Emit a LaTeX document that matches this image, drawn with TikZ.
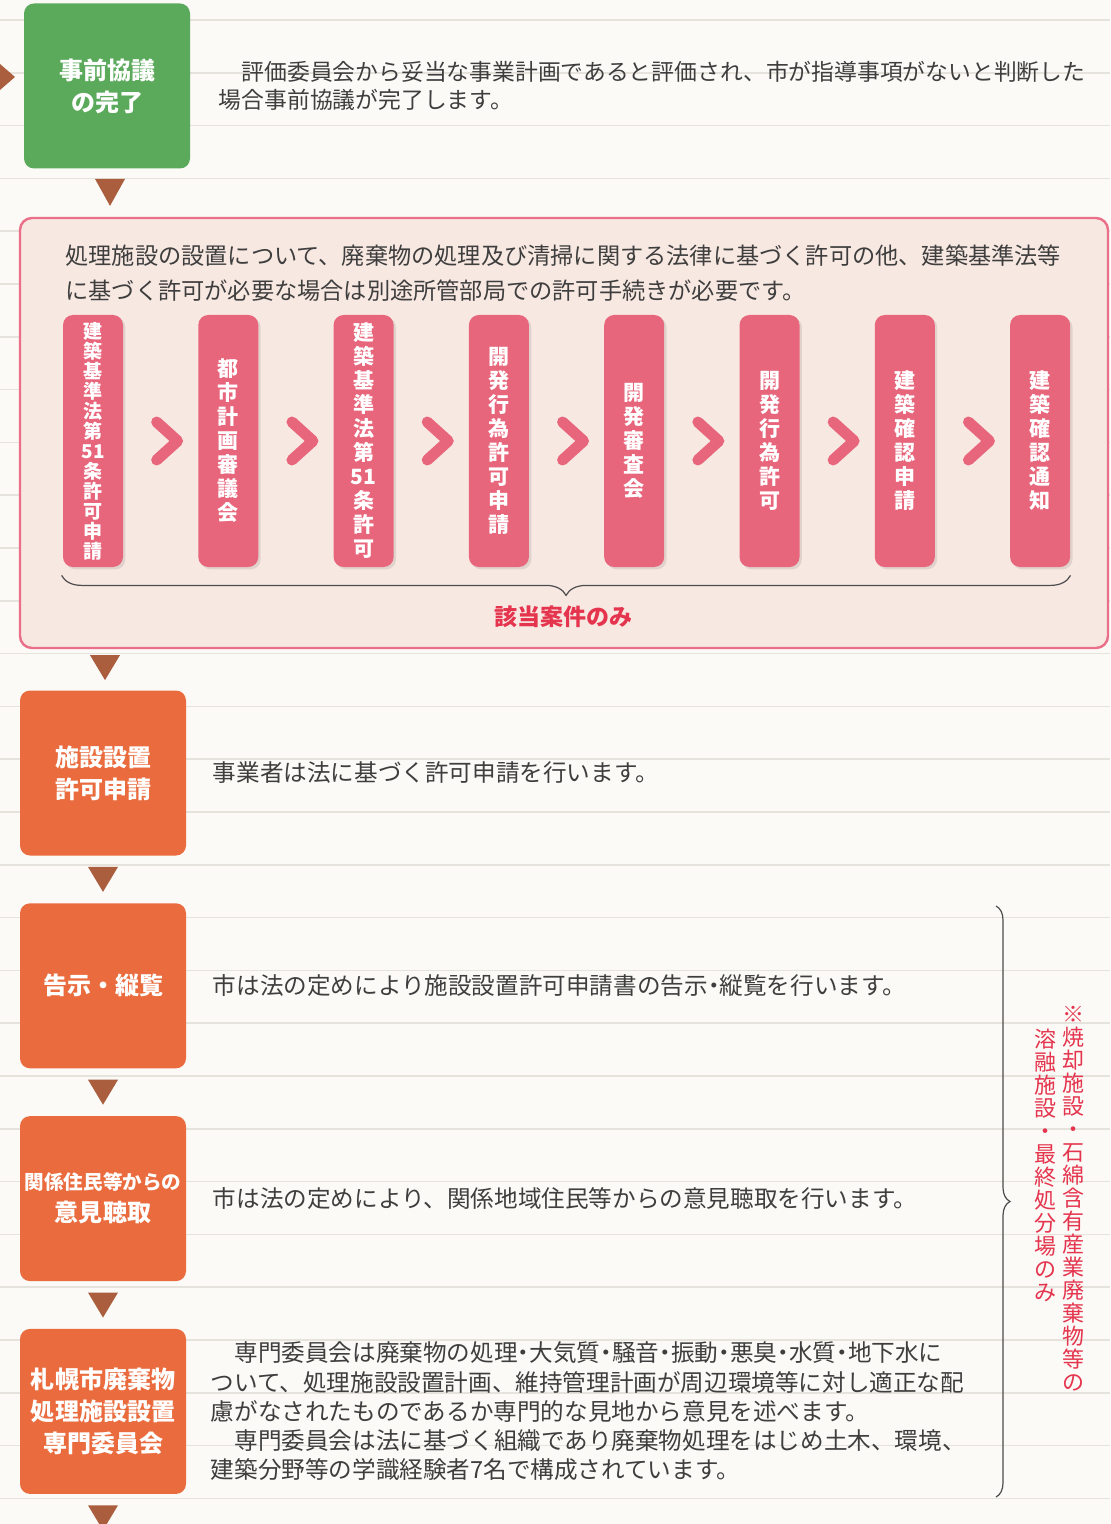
\documentclass[tikz,border=0pt]{standalone}
\usepackage{fontspec}
\setmainfont{Noto Sans CJK JP}
\usetikzlibrary{positioning,calc,shadows,decorations.pathreplacing}
\definecolor{paper}{HTML}{FBFAF6}
\definecolor{ruleline}{HTML}{E6E2DC}
\definecolor{boxgreen}{HTML}{5BAA5C}
\definecolor{boxorange}{HTML}{EA6C3E}
\definecolor{markbrown}{HTML}{AA5E3E}
\definecolor{framepink}{HTML}{EA6F88}
\definecolor{fillpink}{HTML}{F8E8E2}
\definecolor{tabpink}{HTML}{E8667C}
\definecolor{notered}{HTML}{E5344E}
\definecolor{bodygray}{HTML}{3E3E3E}
\newcommand{\nd}{\makebox[0.5em]{・}}
\tikzset{green node/.style={rectangle,rounded corners=5pt,fill=boxgreen,text=white,font=\bfseries\fontsize{12}{16}\selectfont,align=center,minimum width=83pt,minimum height=82.5pt,inner sep=0pt}}
\tikzset{orange node/.style={green node,fill=boxorange}}
\tikzset{tab node/.style={rectangle,rounded corners=5pt,fill=tabpink,text=white,font=\bfseries\fontsize{10.5}{12}\selectfont,align=center,minimum width=30pt,minimum height=126pt,inner sep=0pt,drop shadow={shadow xshift=1.2pt,shadow yshift=-1.2pt,opacity=0.2}}}
\tikzset{pink frame/.style={rectangle,rounded corners=6pt,draw=framepink,line width=1.2pt,fill=fillpink}}
\tikzset{body text/.style={text=bodygray,font=\fontsize{11.8}{14}\selectfont,align=left,inner sep=0pt}}
\tikzset{note text/.style={text=notered,font=\fontsize{11}{11.5}\selectfont,align=center,inner sep=0pt}}
\tikzset{case label/.style={text=notered,font=\bfseries\fontsize{11.5}{14}\selectfont,inner sep=0pt}}
\tikzset{chevron/.style={draw=tabpink,line width=5.5pt,line cap=round,line join=round}}
\tikzset{down mark/.style={fill=markbrown}}
\tikzset{brace line/.style={draw=black!70,line width=0.6pt,decorate}}

\begin{document}
\begin{tikzpicture}[x=0.5pt,y=-0.5pt]
        \useasboundingbox (0,0) rectangle (1110,1524);
        \fill[paper] (0,0) rectangle (1110,1524);
        \foreach \y in {20,72.8,...,1524}
            \draw[ruleline,line width=0.8pt] (0,\y) -- (1110,\y);

        % top step
        \fill[down mark] (0,64) -- (15,77) -- (0,90) -- cycle;
        \node[green node] (done) at (107,86) {事前協議\\の完了};
        \node[body text,font=\fontsize{11.4}{14}\selectfont] (donetext) [right=14pt of done] {　評価委員会から妥当な事業計画であると評価され、市が指導事項がないと判断した\\場合事前協議が完了します。};
        \fill[down mark] ($(done.south)+(-12,10)$) -- ++(30,0) -- ++(-15,27) -- cycle;

        % other permits
        \node[pink frame,minimum width=544pt,minimum height=215pt] (cases) at (564,433) {};
        \node[body text,anchor=north west,font=\fontsize{11.6}{17.5}\selectfont] (rule) at (65,244) {処理施設の設置について、廃棄物の処理及び清掃に関する法律に基づく許可の他、建築基準法等\\に基づく許可が必要な場合は別途所管部局での許可手続きが必要です。};
        \node[tab node,font=\bfseries\fontsize{9.5}{10}\selectfont] (t1) at (93,441) {建\\築\\基\\準\\法\\第\\51\\条\\許\\可\\申\\請};
        \node[tab node] (t2) [right=37.25pt of t1] {都\\市\\計\\画\\審\\議\\会};
        \node[tab node] (t3) [right=37.25pt of t2] {建\\築\\基\\準\\法\\第\\51\\条\\許\\可};
        \node[tab node] (t4) [right=37.25pt of t3] {開\\発\\行\\為\\許\\可\\申\\請};
        \node[tab node] (t5) [right=37.25pt of t4] {開\\発\\審\\査\\会};
        \node[tab node] (t6) [right=37.25pt of t5] {開\\発\\行\\為\\許\\可};
        \node[tab node] (t7) [right=37.25pt of t6] {建\\築\\確\\認\\申\\請};
        \node[tab node] (t8) [right=37.25pt of t7] {建\\築\\確\\認\\通\\知};

        \draw[chevron] ($(t1.east)!0.5!(t2.west)$) ++(-4,-19) -- ++(21,19) -- ++(-21,19);
        \draw[chevron] ($(t2.east)!0.5!(t3.west)$) ++(-4,-19) -- ++(21,19) -- ++(-21,19);
        \draw[chevron] ($(t3.east)!0.5!(t4.west)$) ++(-4,-19) -- ++(21,19) -- ++(-21,19);
        \draw[chevron] ($(t4.east)!0.5!(t5.west)$) ++(-4,-19) -- ++(21,19) -- ++(-21,19);
        \draw[chevron] ($(t5.east)!0.5!(t6.west)$) ++(-4,-19) -- ++(21,19) -- ++(-21,19);
        \draw[chevron] ($(t6.east)!0.5!(t7.west)$) ++(-4,-19) -- ++(21,19) -- ++(-21,19);
        \draw[chevron] ($(t7.east)!0.5!(t8.west)$) ++(-4,-19) -- ++(21,19) -- ++(-21,19);

        \coordinate (bl) at ($(t1.south west)+(-1,8)$);
        \coordinate (br) at ($(t8.south east)+(0,8)$);
        \draw[brace line,decoration={brace,amplitude=10pt}] (br) -- (bl);
        \node[case label] (only) at (563,617) {該当案件のみ};

        % application steps
        \node[orange node] (b2) at (103,773) {施設設置\\許可申請};
        \node[orange node] (b3) [below=23.5pt of b2] {告示・縦覧};
        \node[orange node] (b4) [below=23.5pt of b3] {{\fontsize{9.8}{16}\selectfont 関係住民等からの}\\意見聴取};
        \node[orange node] (b5) [below=23.5pt of b4] {札幌市廃棄物\\処理施設設置\\専門委員会};

        \fill[down mark] ($(b2.north)+(-13,-35)$) -- ++(30,0) -- ++(-15,25) -- cycle;
        \fill[down mark] ($(b2.south)+(-15,11)$) -- ++(30,0) -- ++(-15,25) -- cycle;
        \fill[down mark] ($(b3.south)+(-15,11)$) -- ++(30,0) -- ++(-15,25) -- cycle;
        \fill[down mark] ($(b4.south)+(-15,11)$) -- ++(30,0) -- ++(-15,25) -- cycle;
        \fill[down mark] ($(b5.south)+(-15,11)$) -- ++(30,0) -- ++(-15,25) -- cycle;

        \node[body text] (b2text) [right=13pt of b2] {事業者は法に基づく許可申請を行います。};
        \node[body text] (b3text) [right=13pt of b3] {市は法の定めにより施設設置許可申請書の告示\nd 縦覧を行います。};
        \node[body text] (b4text) [right=13pt of b4] {市は法の定めにより、関係地域住民等からの意見聴取を行います。};
        \node[body text,font=\fontsize{11.8}{14.6}\selectfont] (b5text) [right=12pt of b5] {　専門委員会は廃棄物の処理\nd 大気質\nd 騒音\nd 振動\nd 悪臭\nd 水質\nd 地下水に\\ついて、処理施設設置計画、維持管理計画が周辺環境等に対し適正な配\\慮がなされたものであるか専門的な見地から意見を述べます。\\　専門委員会は法に基づく組織であり廃棄物処理をはじめ土木、環境、\\建築分野等の学識経験者7名で構成されています。};

        % facilities note
        \coordinate (rt) at (996,906);
        \coordinate (rb) at (996,1497);
        \draw[brace line,decoration={brace,amplitude=7pt}] (rt) -- (rb);
        \node[note text,anchor=north] (note1) at (1073,1006) {※\\焼\\却\\施\\設\\・\\石\\綿\\含\\有\\産\\業\\廃\\棄\\物\\等\\の};
        \node[note text,anchor=north] (note2) at (1045,1029) {溶\\融\\施\\設\\・\\最\\終\\処\\分\\場\\の\\み};
    \end{tikzpicture}
\end{document}
